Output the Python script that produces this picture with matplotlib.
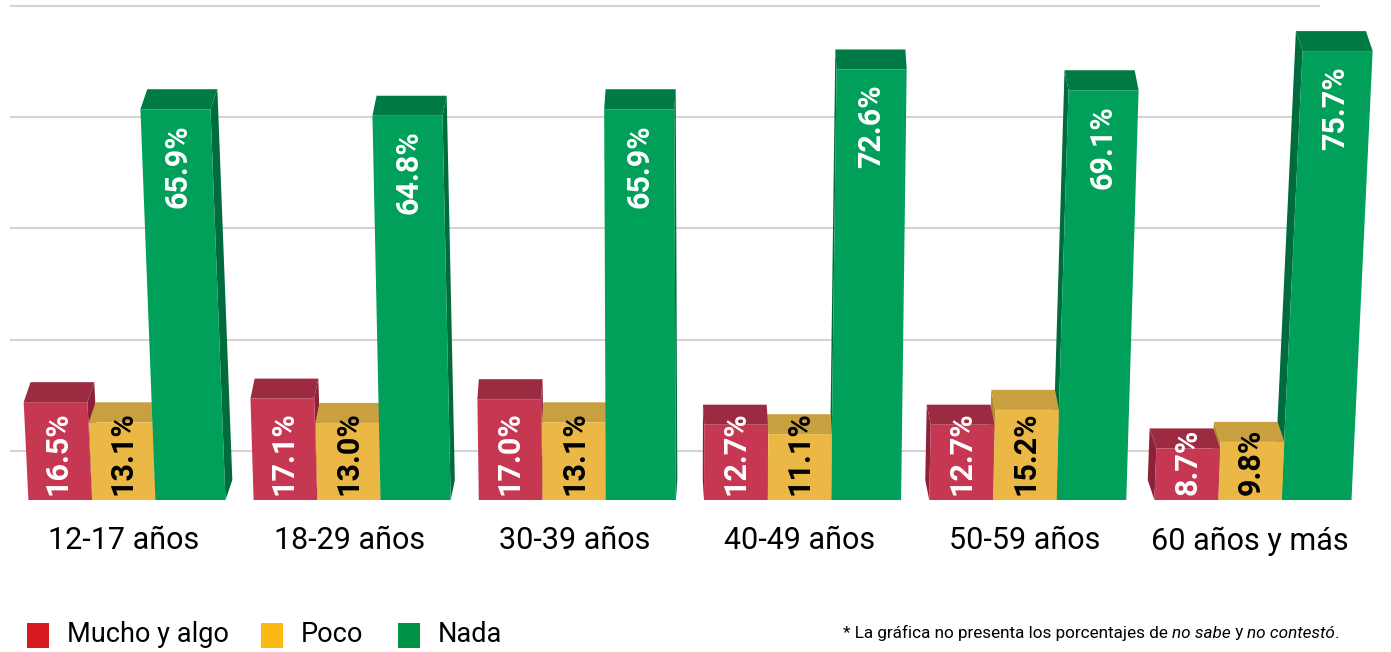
import numpy as np
import matplotlib.pyplot as plt
from matplotlib.patches import Polygon, Rectangle

# data
grupos = ['12-17 años', '18-29 años', '30-39 años', '40-49 años', '50-59 años', '60 años y más']
series = ['Mucho y algo', 'Poco', 'Nada']
mucho = [16.5, 17.1, 17.0, 12.7, 12.7, 8.7]
poco = [13.1, 13.0, 13.1, 11.1, 15.2, 9.8]
nada = [65.9, 64.8, 65.9, 72.6, 69.1, 75.7]
grid_vals = [0, 20, 40, 60, 80]
nota = [('* La gráfica no presenta los porcentajes de ', 'normal'), ('no sabe', 'italic'),
        (' y ', 'normal'), ('no contestó', 'italic'), ('.', 'normal')]

valores = [mucho, poco, nada]
frente = ['#c63752', '#ebb846', '#00a05a']
arriba = ['#9c2b42', '#c9a040', '#007a45']
lado = ['#8a2238', '#b38a30', '#006b3c']
legend_col = ['#d71920', '#fdb913', '#009245']
txt_col = ['white', 'black', 'white']

W, H = 1391, 652
BASE = 500          # baseline in pixels from top
PXU = 5.93          # pixels per percentage point
GAP = 225.2         # pixels between groups
X0 = 124            # pixel position of first group
CX = 695

plt.rcParams['font.family'] = ['Roboto', 'DejaVu Sans']
fig = plt.figure(figsize=(W / 100, H / 100), dpi=100)
ax = fig.add_axes([0, (H - BASE) / H, 1, BASE / H])
xmin = -X0 / GAP
ax.set_xlim(xmin, xmin + W / GAP)
ax.set_ylim(0, BASE / PXU)
for s in ax.spines.values():
    s.set_visible(False)
ax.set_yticks([])

px = 1 / GAP   # data units per pixel in x
py = 1 / PXU   # data units per pixel in y

# back-wall gridlines
for g in grid_vals:
    yb = 8.3 + 0.9375 * g
    ax.hlines(yb, xmin + 10 * px, xmin + 1320 * px, color='#d4d4d4', lw=1.5, zorder=0)

bw = 0.283
offs = [-0.283, 0.0, 0.295]
depth = 20 * py

for i in range(len(grupos)):
    xc_pix = X0 + GAP * i
    dx = 0.012 * (CX - xc_pix) * px
    orden = [0, 1, 2] if dx > 0 else [2, 1, 0]
    for z, k in enumerate(orden):
        v = valores[k][i]
        w = bw * (1.1 if k == 2 else 1.0)
        x0 = i + offs[k] - w / 2
        x1 = x0 + w
        bar_pix = X0 + GAP * (i + offs[k])
        lean = 4.5e-4 * (bar_pix - CX) * v * px
        zo = 2 + z
        # side face
        if dx > 0:
            side = [(x1, 0), (x1 + lean, v), (x1 + lean + dx, v + depth), (x1 + dx, depth)]
        else:
            side = [(x0, 0), (x0 + lean, v), (x0 + lean + dx, v + depth), (x0 + dx, depth)]
        ax.add_patch(Polygon(side, closed=True, fc=lado[k], ec='none', zorder=zo))
        # top face
        top = [(x0 + lean, v), (x0 + lean + dx, v + depth), (x1 + lean + dx, v + depth), (x1 + lean, v)]
        ax.add_patch(Polygon(top, closed=True, fc=arriba[k], ec='none', zorder=zo))
        # front face
        front = [(x0, 0), (x0 + lean, v), (x1 + lean, v), (x1, 0)]
        ax.add_patch(Polygon(front, closed=True, fc=frente[k], ec='none', zorder=zo))
        # value label
        if v > 40:
            ty = v - 15 * py
            va = 'top'
            xt = (x0 + x1) / 2 + lean * (ty - 6) / v
        else:
            ty = 5 * py
            va = 'bottom'
            xt = (x0 + x1) / 2 + lean * 0.5
        ax.text(xt, ty, f'{v:.1f}%', rotation=90, ha='center', va=va,
                fontsize=22, fontweight='bold', color=txt_col[k], zorder=zo + 0.5)

ax.set_xticks(range(len(grupos)))
ax.set_xticklabels(grupos, fontsize=22)
ax.tick_params(axis='x', length=0, pad=19)

# legend
leg_x = [27, 261, 398]
for k in range(3):
    fig.patches.append(Rectangle((leg_x[k] / W, 1 - 648 / H), 22 / W, 25 / H,
                                 transform=fig.transFigure, fc=legend_col[k], ec='none'))
    fig.text((leg_x[k] + 40) / W, 1 - 634 / H, series[k], fontsize=19.5, va='center', ha='left')

# footnote with italic parts
fig.canvas.draw()
r = fig.canvas.get_renderer()
xpos = 843 / W
for t, st in nota:
    tt = fig.text(xpos, 1 - 633 / H, t, fontsize=12.3, style=st, va='center', ha='left')
    bb = tt.get_window_extent(renderer=r)
    xpos += bb.width / W

fig.savefig('out.png', dpi=100)
